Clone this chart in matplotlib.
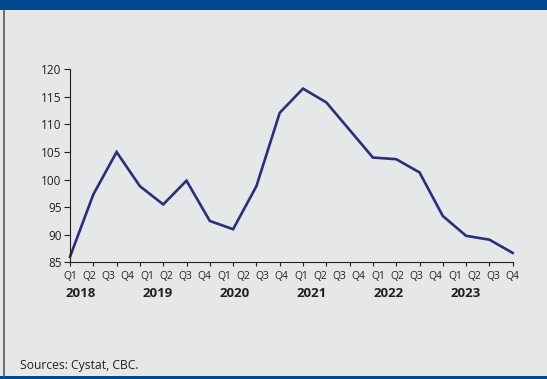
import matplotlib
matplotlib.use("Agg")
import matplotlib.pyplot as plt
import numpy as np
from matplotlib.patches import Rectangle
from matplotlib.lines import Line2D

values = [86.0, 97.3, 105.0, 98.8, 95.5, 99.8, 92.5, 91.0, 98.8, 112.1,
          116.5, 114.0, 109.0, 104.0, 103.7, 101.3, 93.4, 89.8, 89.1, 86.7]
quarter_labels = ["Q1", "Q2", "Q3", "Q4"] * 6
years = ["2018", "2019", "2020", "2021", "2022", "2023"]
yticks = [85, 90, 95, 100, 105, 110, 115, 120]
source = "Sources: Cystat, CBC."

bg = "#E6E7E9"
blue = "#004A8F"
navy = "#2B2E78"
txt = "#231F20"

W, H = 547, 379
fig = plt.figure(figsize=(W / 100, H / 100), dpi=100)
fig.patch.set_facecolor(bg)
plt.rcParams['font.family'] = ['Open Sans', 'DejaVu Sans']

# frame decorations
fig.add_artist(Rectangle((0, 1 - 10 / H), 1, 10 / H, transform=fig.transFigure,
                         facecolor=blue, edgecolor="none"))
fig.add_artist(Rectangle((0, 0), 1, 3 / H, transform=fig.transFigure,
                         facecolor=blue, edgecolor="none"))
fig.add_artist(Line2D([3.5 / W, 3.5 / W], [3 / H, 1 - 10 / H], transform=fig.transFigure,
                      color="#58595B", lw=1.2))

left, right = 70 / W, 512.7 / W
bottom, top = (H - 262.3) / H, (H - 69.3) / H
ax = fig.add_axes([left, bottom, right - left, top - bottom])
ax.set_facecolor(bg)

x = np.arange(len(values))
ax.plot(x, values, color=navy, lw=1.9, solid_joinstyle="miter", clip_on=False)

ax.set_xlim(0, len(values) - 1)
ax.set_ylim(85, 120)
ax.set_yticks(yticks)
ax.set_yticklabels([str(v) for v in yticks], fontsize=8.5, color=txt)
ax.set_xticks(x)
ax.set_xticklabels([])
for s in ["top", "right"]:
    ax.spines[s].set_visible(False)
for s in ["left", "bottom"]:
    ax.spines[s].set_color("#231F20")
    ax.spines[s].set_linewidth(0.8)
ax.tick_params(axis="y", length=4, width=0.8, color=txt, pad=2)
ax.tick_params(axis="x", length=3, width=0.8, color=txt, direction="out")

# category labels evenly spread over axis width
qpos = np.linspace(0, len(values) - 1, len(quarter_labels))
for p, lab in zip(qpos, quarter_labels):
    ax.text(p, -0.045, lab, transform=ax.get_xaxis_transform(), ha="center", va="top",
            fontsize=7.4, color=txt)
step = qpos[1] - qpos[0]
for i, yr in enumerate(years):
    ax.text(qpos[4 * i] + step * 0.55, -0.128, yr, transform=ax.get_xaxis_transform(),
            ha="center", va="top", fontsize=9.5, fontweight="bold", color=txt)

fig.text(20 / W, (H - 366) / H, source, ha="left", va="center", fontsize=8.7, color=txt)

fig.savefig("out.png", dpi=100, facecolor=bg)
